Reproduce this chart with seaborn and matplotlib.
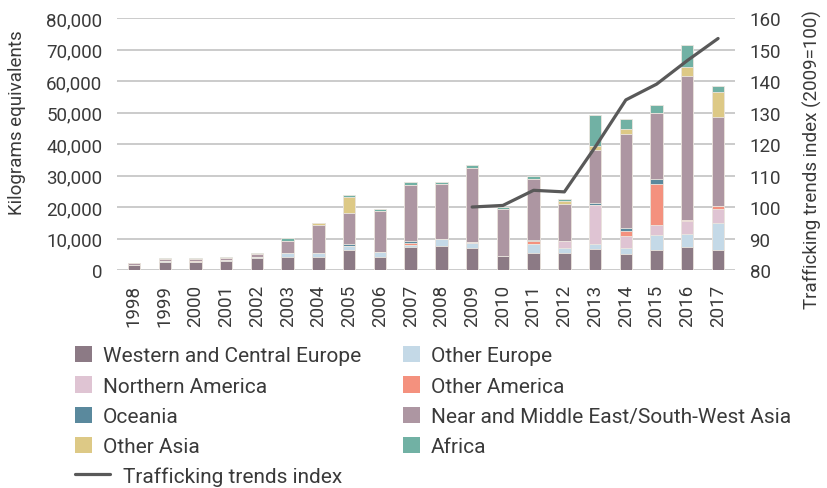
import numpy as np
import seaborn as sns
import matplotlib.pyplot as plt
from matplotlib.patches import Patch
from matplotlib.lines import Line2D
from matplotlib.ticker import FuncFormatter

# Years on the x axis
years = [str(y) for y in range(1998, 2018)]

# Quantities seized by region (kg equivalents), stacked bottom to top
w_c_europe = [1590, 2670, 2670, 2860, 3810, 4250, 4130, 6350, 4250, 7300,
              7620, 7100, 4450, 5520, 5300, 6570, 5180, 6350, 7300, 6350]
other_europe = [0, 310, 0, 315, 440, 1050, 1170, 1270, 1470, 640,
                2130, 1600, 0, 2640, 1800, 1590, 1700, 4670, 4040, 8480]
north_america = [0, 0, 0, 0, 0, 0, 0, 0, 0, 0,
                 0, 320, 0, 0, 2110, 12380, 3920, 3170, 4140, 4440]
other_america = [0, 0, 310, 0, 0, 0, 0, 0, 0, 760,
                 0, 0, 0, 1050, 0, 0, 1580, 13020, 300, 1050]
oceania = [0, 0, 0, 0, 0, 0, 0, 540, 0, 630,
           0, 0, 0, 315, 0, 840, 860, 1790, 0, 0]
near_middle_east = [540, 640, 640, 635, 730, 3910, 8890, 9840, 13010, 17660,
                    17550, 23270, 15040, 19275, 11870, 16720, 29840, 20750, 45720, 28260]
other_asia = [0, 0, 0, 0, 0, 0, 860, 5180, 0, 0,
              0, 0, 0, 0, 820, 1270, 1590, 0, 2950, 7940]
africa = [0, 320, 320, 440, 540, 850, 0, 540, 760, 950,
          640, 950, 640, 1050, 770, 9730, 3180, 2540, 6890, 1810]

# Trafficking trends index (2009=100)
index_years = [str(y) for y in range(2009, 2018)]
index_values = [100, 100.5, 105.3, 104.8, 119, 134, 139, 146.5, 153.5]

regions = ["Western and Central Europe", "Other Europe", "Northern America",
           "Other America", "Oceania", "Near and Middle East/South-West Asia",
           "Other Asia", "Africa"]
colors = ["#8c7a85", "#c4d9e7", "#dfc4d3", "#f4917e",
          "#5a899d", "#ad96a2", "#ddc986", "#71b1a4"]

layers = np.array([w_c_europe, other_europe, north_america, other_america,
                   oceania, near_middle_east, other_asia, africa])
cum = layers.cumsum(axis=0)

text_col = "#3a3a3a"
fs = 13.5
leg_fs = 15

sns.set_theme(style="white")
plt.rcParams["font.family"] = ["Roboto", "DejaVu Sans"]

fig = plt.figure(figsize=(8.27, 4.89), dpi=100)
ax = fig.add_axes([117 / 827, 1 - 271 / 489, 618 / 827, 252 / 489])

# draw cumulative totals from the top layer down so each covers the one above
for i in reversed(range(len(regions))):
    sns.barplot(x=years, y=cum[i], color=colors[i], saturation=1, width=0.4,
                errorbar=None, edgecolor="#ece6df", linewidth=0.6, ax=ax)

ax.set_xlim(-0.55, 19.55)
ax.set_ylim(0, 80000)
ax.set_yticks(range(0, 80001, 10000))
ax.yaxis.set_major_formatter(FuncFormatter(lambda v, p: f"{int(v):,}"))
ax.set_axisbelow(True)
ax.yaxis.grid(True, color="#cbcbcb", linewidth=1.4)
ax.xaxis.grid(False)
ax.tick_params(axis="y", length=0, pad=10.5, labelsize=fs, labelcolor=text_col)
ax.tick_params(axis="x", length=0, pad=10, labelsize=fs, labelcolor=text_col,
               labelrotation=90)
ax.set_xlabel("")
ax.set_ylabel("Kilograms equivalents", fontsize=fs, color=text_col)
ax.yaxis.set_label_coords(-0.147, 0.587)
for s in ax.spines.values():
    s.set_visible(False)

ax2 = ax.twinx()
pos = [years.index(y) for y in index_years]
sns.lineplot(x=pos, y=index_values, color="#595959", linewidth=2.3, ax=ax2)
ax2.set_ylim(80, 160)
ax2.set_yticks(range(80, 161, 10))
ax2.tick_params(axis="y", length=0, pad=10.5, labelsize=fs, labelcolor=text_col)
ax2.set_ylabel("Trafficking trends index (2009=100)", fontsize=fs, color=text_col)
ax2.yaxis.set_label_coords(1.110, 0.444)
for s in ax2.spines.values():
    s.set_visible(False)
ax.set_xlim(-0.55, 19.55)

# legend: two columns filled row by row
order = [0, 2, 4, 6, 1, 3, 5, 7]
handles = [Patch(facecolor=colors[i], edgecolor="none", label=regions[i]) for i in order]
fig.legend(handles=handles, ncol=2, loc="upper left",
           bbox_to_anchor=(75 / 827, 1 - 347 / 489), frameon=False,
           fontsize=leg_fs, handlelength=0.82, handleheight=0.82, handletextpad=0.53,
           columnspacing=2.0, labelspacing=0.53, borderpad=0, borderaxespad=0,
           labelcolor=text_col)
fig.legend(handles=[Line2D([], [], color="#595959", linewidth=2.3)],
           labels=["Trafficking trends index"], loc="upper left",
           bbox_to_anchor=(75 / 827, 1 - 467 / 489), frameon=False,
           fontsize=leg_fs, handlelength=1.7, handletextpad=0.62, borderpad=0,
           borderaxespad=0, labelcolor=text_col)

fig.savefig("out.png", dpi=100)
